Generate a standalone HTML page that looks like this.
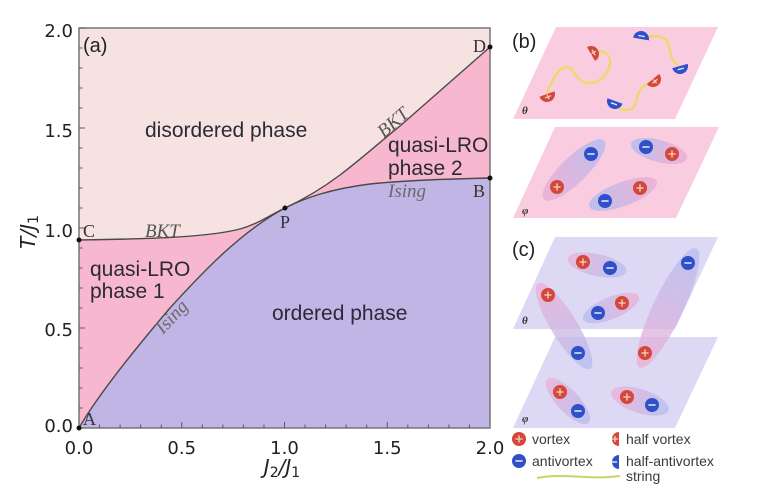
<!DOCTYPE html>
<html>
<head>
<meta charset="utf-8">
<style>
html,body{margin:0;padding:0;background:#fff;}
svg{display:block;}
</style>
</head>
<body>
<svg width="757" height="498" viewBox="0 0 757 498" xmlns="http://www.w3.org/2000/svg">
<defs>
  <linearGradient id="gbr" x1="0" y1="0" x2="1" y2="0">
    <stop offset="0" stop-color="#b3bdf0"/>
    <stop offset="1" stop-color="#eeaed4"/>
  </linearGradient>
  <g id="rv"><circle r="7" fill="#d4473b"/><path d="M-3.6,0H3.6M0,-3.6V3.6" stroke="#f6d6c6" stroke-width="1.3"/></g>
  <g id="bv"><circle r="7" fill="#3050c9"/><path d="M-3.6,0H3.6" stroke="#e8ecff" stroke-width="1.5"/></g>
  <g id="rh"><path d="M-8,0A8,8 0 0 0 8,0Z" fill="#d4473b"/><path d="M-3.2,3H3.2M0,0.6V5.6" stroke="#f6d6c6" stroke-width="1.2"/></g>
  <g id="bh"><path d="M-8,0A8,8 0 0 0 8,0Z" fill="#3050c9"/><path d="M-3.2,3H3.2" stroke="#e8ecff" stroke-width="1.3"/></g>
</defs>

<rect width="757" height="498" fill="#fff"/>

<!-- ===== Panel (a) ===== -->
<rect x="79" y="28" width="411" height="400" fill="#f6e2e1"/>
<path d="M79,240 C140,239 205,238 240,229 C258,224 270,215 285,208 C300,201 320,190 340,175 C360,160 380,142 400,126 L490,47 L490,178 C450,179 410,180 370,184 C330,189 305,198 285,208 C240,232 200,275 170,308 C130,355 95,400 79,428 Z" fill="#f7b7cf"/>
<path d="M79,428 C95,400 130,355 170,308 C200,275 240,232 285,208 C305,198 330,189 370,184 C410,180 450,179 490,178 L490,428 Z" fill="#c0b5e4"/>

<g fill="none" stroke="#4a4a4a" stroke-width="1.4">
  <path d="M79,240 C140,239 205,238 240,229 C258,224 270,215 285,208 C300,201 320,190 340,175 C360,160 380,142 400,126 L490,47"/>
  <path d="M79,428 C95,400 130,355 170,308 C200,275 240,232 285,208 C305,198 330,189 370,184 C410,180 450,179 490,178"/>
</g>

<rect x="79" y="28" width="411" height="400" fill="none" stroke="#767676" stroke-width="1.5"/>

<g stroke="#5a5a5a" stroke-width="1">
  <path d="M79,28h6M79,48h3.5M79,68h3.5M79,88h3.5M79,108h3.5M79,128h6M79,148h3.5M79,168h3.5M79,188h3.5M79,208h3.5M79,228h6M79,248h3.5M79,268h3.5M79,288h3.5M79,308h3.5M79,328h6M79,348h3.5M79,368h3.5M79,388h3.5M79,408h3.5"/>
  <path d="M181.75,428v-6M99.55,428v-3.5M120.1,428v-3.5M140.65,428v-3.5M161.2,428v-3.5M202.3,428v-3.5M222.85,428v-3.5M243.4,428v-3.5M263.95,428v-3.5M284.5,428v-6M305.05,428v-3.5M325.6,428v-3.5M346.15,428v-3.5M366.7,428v-3.5M387.25,428v-6M407.8,428v-3.5M428.35,428v-3.5M448.9,428v-3.5M469.45,428v-3.5"/>
</g>

<g font-family="'DejaVu Sans', 'Liberation Sans', sans-serif" font-size="18" fill="#222">
  <text x="73" y="37" text-anchor="end">2.0</text>
  <text x="73" y="137" text-anchor="end">1.5</text>
  <text x="73" y="237" text-anchor="end">1.0</text>
  <text x="73" y="336" text-anchor="end">0.5</text>
  <text x="73" y="432" text-anchor="end">0.0</text>
  <text x="79" y="454" text-anchor="middle">0.0</text>
  <text x="181.75" y="454" text-anchor="middle">0.5</text>
  <text x="284.5" y="454" text-anchor="middle">1.0</text>
  <text x="387.25" y="454" text-anchor="middle">1.5</text>
  <text x="490" y="454" text-anchor="middle">2.0</text>
</g>

<text x="282" y="474" text-anchor="middle" font-family="'DejaVu Sans', sans-serif" font-size="20" fill="#222"><tspan font-style="italic">J</tspan><tspan font-size="14" dy="3">2</tspan><tspan dy="-3" font-style="italic">/J</tspan><tspan font-size="14" dy="3">1</tspan></text>
<text transform="translate(35,232) rotate(-90)" text-anchor="middle" font-family="'DejaVu Sans', sans-serif" font-size="20" fill="#222"><tspan font-style="italic">T/J</tspan><tspan font-size="14" dy="3">1</tspan></text>

<text x="83" y="52" font-family="'Liberation Sans', sans-serif" font-size="20" fill="#222">(a)</text>

<g font-family="'Liberation Sans', sans-serif" font-size="21" fill="#2a2a36">
  <text x="145" y="137">disordered phase</text>
  <text x="90" y="276">quasi-LRO</text>
  <text x="90" y="298">phase 1</text>
  <text x="388" y="152">quasi-LRO</text>
  <text x="388" y="175">phase 2</text>
  <text x="272" y="320">ordered phase</text>
</g>

<g font-family="'Liberation Serif', serif" font-style="italic" font-size="19">
  <text x="145" y="237" fill="#555">BKT</text>
  <text transform="translate(397,127) rotate(-41)" text-anchor="middle" fill="#555">BKT</text>
  <text transform="translate(176,321) rotate(-47)" text-anchor="middle" fill="#6a6a6a">Ising</text>
  <text x="388" y="197" fill="#6a6a6a">Ising</text>
</g>

<g font-family="'Liberation Serif', serif" font-size="18" fill="#333">
  <text x="83" y="237">C</text>
  <text x="83" y="425">A</text>
  <text x="280" y="228">P</text>
  <text x="473" y="52">D</text>
  <text x="473" y="197">B</text>
</g>

<g fill="#111">
  <circle cx="79" cy="240" r="2.5"/>
  <circle cx="79" cy="428" r="2.5"/>
  <circle cx="285" cy="208" r="2.5"/>
  <circle cx="490" cy="47" r="2.5"/>
  <circle cx="490" cy="178" r="2.5"/>
</g>

<!-- ===== Panel (b) ===== -->
<text x="512" y="48" font-family="'Liberation Sans', sans-serif" font-size="20" fill="#222">(b)</text>
<polygon points="556,27 718,27 675,119 513,119" fill="#f9cddf"/>
<polygon points="555,127 719,127 676,218 513,218" fill="#f9cddf"/>

<g fill="none" stroke="#efd86a" stroke-width="2.4" stroke-linecap="round">
  <path d="M547,93 C552,80 558,68 566,67 C574,66 575,82 588,83 C600,84 610,72 610,62 C610,54 602,49 595,53"/>
  <path d="M644,39 C652,35 664,34 668,43 C671,52 670,60 678,65"/>
  <path d="M649,83 C640,87 637,95 636,102 C635,110 624,113 617,106"/>
</g>
<use href="#rh" transform="translate(591,54) rotate(-120)"/>
<use href="#rh" transform="translate(547,94) rotate(-20)"/>
<use href="#rh" transform="translate(653,79) rotate(-40)"/>
<use href="#bh" transform="translate(641,39) rotate(-170)"/>
<use href="#bh" transform="translate(680,66) rotate(-15)"/>
<use href="#bh" transform="translate(615,101) rotate(20)"/>

<g font-family="'Liberation Serif', serif" font-style="italic" font-weight="bold" font-size="11" fill="#333">
  <text x="522" y="114">θ</text>
  <text x="522" y="214">φ</text>
</g>

<g opacity="0.85">
  <ellipse transform="translate(574,170) rotate(135.8)" rx="42" ry="13" fill="url(#gbr)"/>
  <ellipse transform="translate(659,151) rotate(15)" rx="29" ry="11" fill="url(#gbr)"/>
  <ellipse transform="translate(623,194) rotate(-20.4)" rx="36" ry="12" fill="url(#gbr)"/>
</g>
<use href="#bv" x="591" y="154"/>
<use href="#rv" x="557" y="187"/>
<use href="#bv" x="646" y="147"/>
<use href="#rv" x="672" y="154"/>
<use href="#rv" x="640" y="188"/>
<use href="#bv" x="605" y="201"/>

<!-- ===== Panel (c) ===== -->
<text x="512" y="256" font-family="'Liberation Sans', sans-serif" font-size="20" fill="#222">(c)</text>
<polygon points="555,237 718,237 675,329 513,329" fill="#ddd8f4"/>
<polygon points="555,337 718,337 675,428 513,428" fill="#ddd8f4"/>
<text x="522" y="324" font-family="'Liberation Serif', serif" font-style="italic" font-weight="bold" font-size="11" fill="#333">θ</text>
<text x="522" y="422" font-family="'Liberation Serif', serif" font-style="italic" font-weight="bold" font-size="11" fill="#333">φ</text>

<g opacity="0.75">
  <ellipse transform="translate(597,265) rotate(-167.5)" rx="30" ry="11" fill="url(#gbr)"/>
  <ellipse transform="translate(611,308) rotate(-22.6)" rx="30" ry="11" fill="url(#gbr)"/>
  <ellipse transform="translate(564,326) rotate(-121.5)" rx="50" ry="13" fill="url(#gbr)"/>
  <ellipse transform="translate(668,308) rotate(115.5)" rx="66" ry="15" fill="url(#gbr)"/>
  <ellipse transform="translate(568,401) rotate(-133.5)" rx="30" ry="11" fill="url(#gbr)"/>
  <ellipse transform="translate(640,401) rotate(-162)" rx="30" ry="12" fill="url(#gbr)"/>
</g>
<use href="#rv" x="583" y="262"/>
<use href="#bv" x="610" y="268"/>
<use href="#rv" x="622" y="303"/>
<use href="#bv" x="598" y="313"/>
<use href="#rv" x="548" y="295"/>
<use href="#bv" x="688" y="263"/>
<use href="#bv" x="578" y="353"/>
<use href="#rv" x="645" y="353"/>
<use href="#rv" x="560" y="392"/>
<use href="#bv" x="578" y="411"/>
<use href="#rv" x="627" y="397"/>
<use href="#bv" x="652" y="405"/>

<!-- ===== Legend ===== -->
<use href="#rv" x="519" y="439"/>
<use href="#bv" x="519" y="461"/>
<g transform="translate(617,439)"><path d="M2,-7A7,7 0 1 0 2,7Z" fill="#d4473b"/><path d="M-5,0H1M-2,-3V3" stroke="#f6d6c6" stroke-width="1.2"/></g>
<g transform="translate(617,462)"><path d="M2,-7A7,7 0 1 0 2,7Z" fill="#3050c9"/><path d="M-5,0H0" stroke="#e8ecff" stroke-width="1.4"/></g>
<path d="M537,478 C552,475 567,476 585,477 C600,478 610,477 620,476" fill="none" stroke="#c9d36a" stroke-width="2"/>
<g font-family="'Liberation Sans', sans-serif" font-size="14" fill="#3a3a3a">
  <text x="532" y="444">vortex</text>
  <text x="532" y="466">antivortex</text>
  <text x="626" y="444">half vortex</text>
  <text x="626" y="466">half-antivortex</text>
  <text x="626" y="481">string</text>
</g>
</svg>
</body>
</html>
